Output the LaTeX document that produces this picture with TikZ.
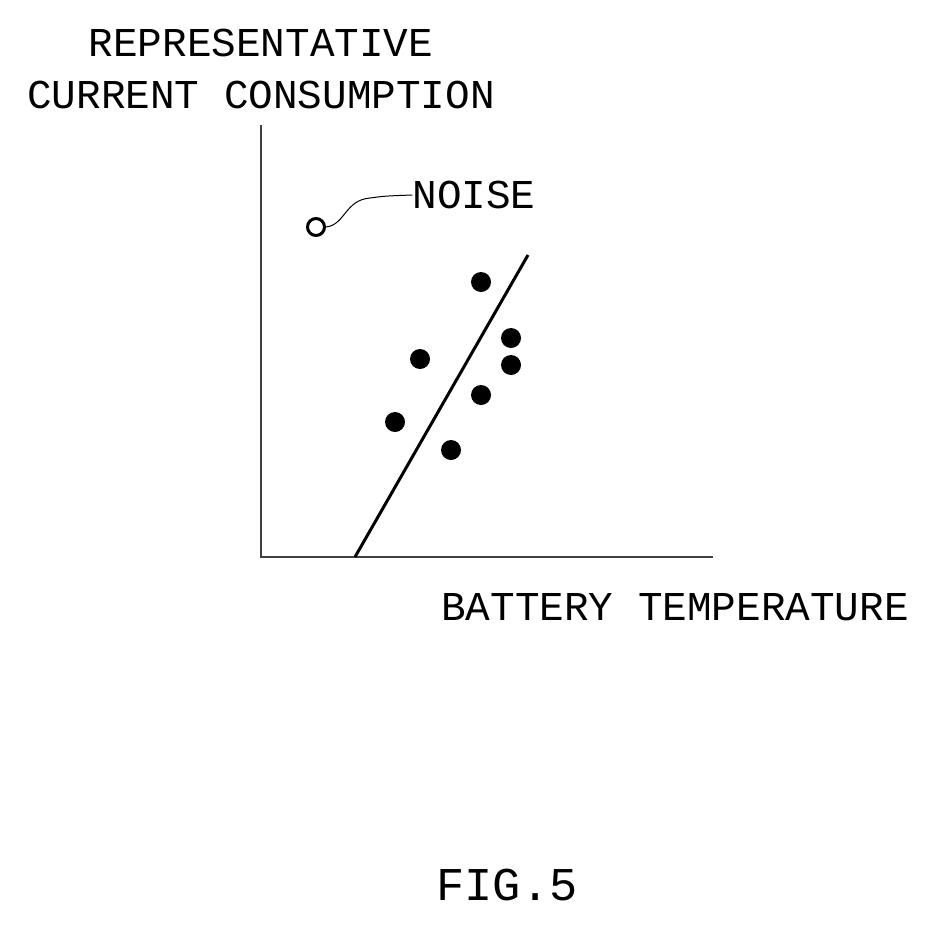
\documentclass[tikz,border=0pt]{standalone}
\usepackage{fontspec}
\setmainfont{Liberation Mono}
\begin{document}
\begin{tikzpicture}[x=1pt,y=-1pt,
  lbl/.style={font=\fontsize{41}{41}\selectfont,inner sep=0pt},
  dot/.style={circle,fill=black,minimum size=20pt,inner sep=0pt},
  axis/.style={line width=1.2pt,black!75}]
\useasboundingbox (0,0) rectangle (939,926);
\node[lbl] (t1) at (261,43) {REPRESENTATIVE};
\node[lbl] (t2) at (261,95) {CURRENT CONSUMPTION};
\node[lbl] (t3) at (675,607) {BATTERY TEMPERATURE};
\node[lbl,font=\fontsize{47}{47}\selectfont] (fig) at (507,885) {FIG.5};
\node[lbl] (noise) at (474,195) {NOISE};
\coordinate (o) at (261,557);
\coordinate (ytop) at (261,125);
\coordinate (xend) at (713,557);
\draw[axis] (ytop) -- (o) -- (xend);
\coordinate (l1) at (355,557);
\coordinate (l2) at (528,255);
\draw[line width=3pt] (l1) -- (l2);
\foreach \p/\n in {{(481,282)}/a,{(511,338)}/b,{(511,365)}/c,{(420,359)}/d,{(481,395)}/e,{(395,422)}/f,{(451,450)}/g}
  \node[dot] (\n) at \p {};
\node[circle,draw,line width=3pt,minimum size=17pt,inner sep=0pt] (n) at (316,227) {};
\draw[line width=1pt] (n.east) .. controls (345,225) and (345,200) .. (370,198) .. controls (385,196) .. (noise.west);
\end{tikzpicture}
\end{document}
